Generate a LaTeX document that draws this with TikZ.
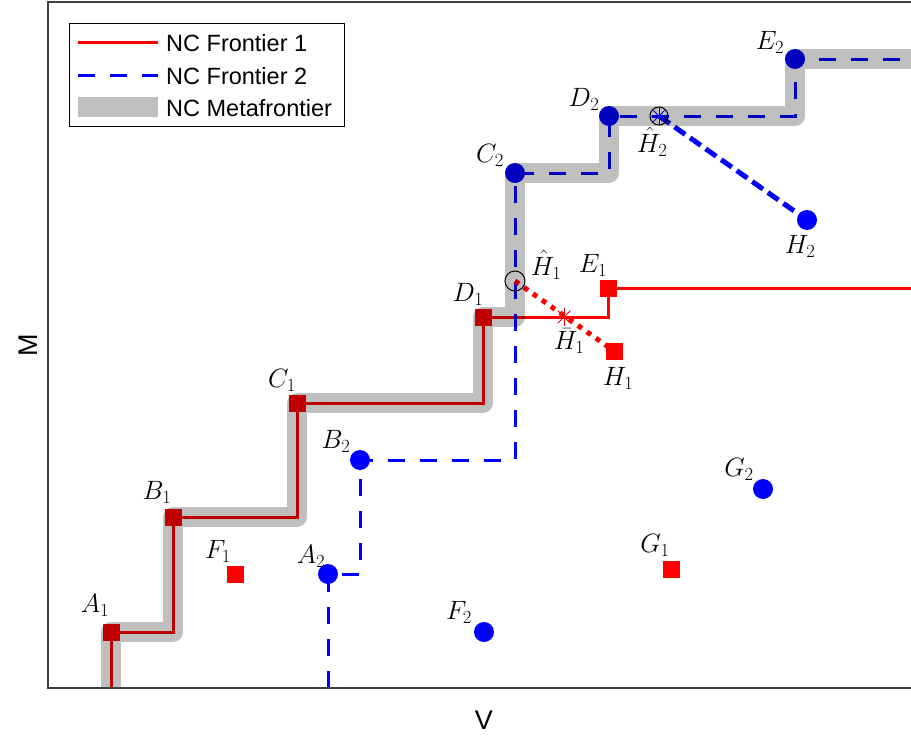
\RequirePackage{fix-cm}
\documentclass[tikz,border=0pt]{standalone}
\usepackage{fontspec}
\setsansfont{Liberation Sans}
\usetikzlibrary{positioning}

\begin{document}
\begin{tikzpicture}[x=1pt,y=-1pt,
  lbl/.style={font=\fontsize{26.5}{30}\selectfont,inner sep=0pt},
  leg/.style={font=\sffamily\fontsize{23.5}{27}\selectfont,anchor=west,inner sep=0pt},
  axlbl/.style={font=\sffamily\fontsize{27}{30}\selectfont,inner sep=0pt},
  front1/.style={color=red,line width=3pt},
  front2/.style={color=blue,line width=3pt,dash pattern=on 17pt off 15pt},
  meta/.style={black,opacity=0.25,line width=20pt,line join=round},
  redpt/.style={fill=red,minimum size=17pt,inner sep=0pt},
  bluept/.style={circle,fill=blue,minimum size=20pt,inner sep=0pt}]

\useasboundingbox (0,0) rectangle (911,736);

% frontier 1 points
\coordinate (A1) at (111,632);
\coordinate (B1) at (173,517);
\coordinate (C1) at (297,403);
\coordinate (D1) at (483,317);
\coordinate (E1) at (608,288);
\coordinate (F1) at (235,574);
\coordinate (G1) at (671,569);
\coordinate (H1) at (614,351);
% frontier 2 points
\coordinate (A2) at (328,574);
\coordinate (B2) at (360,460);
\coordinate (C2) at (515,173);
\coordinate (D2) at (609,116);
\coordinate (E2) at (795,59);
\coordinate (F2) at (484,632);
\coordinate (G2) at (763,489);
\coordinate (H2) at (807,220);
% projections
\coordinate (hH1) at (515,281);
\coordinate (bH1) at (564,317);
\coordinate (hH2) at (659,116);
% ends at the axes
\coordinate (A1b) at (111,688);
\coordinate (A2b) at (328,688);
\coordinate (end1) at (911,288);
\coordinate (end2) at (911,59);

\begin{scope}
\clip (48,2) rectangle (911,688);
\draw[front1] (A1b) -- (A1) -| (B1) -| (C1) -| (D1) -| (E1) -- (end1);
\draw[front2] (A2b) -- (A2) -| (B2) -| (C2) -| (D2) -| (E2) -- (end2);

\draw[red,line width=5pt,dash pattern=on 5pt off 6pt] (hH1) -- (H1);
\draw[blue,line width=5pt,dash pattern=on 13pt off 6pt] (hH2) -- (H2);

\foreach \p in {A1,B1,C1,D1,E1,F1,G1,H1}
  \node[redpt] (m\p) at (\p) {};
\foreach \p in {A2,B2,C2,D2,E2,F2,G2,H2}
  \node[bluept] (m\p) at (\p) {};

\draw[meta] (A1b) -- (A1) -| (B1) -| (C1) -| (D1) -| (C2) -| (D2) -| (E2) -- (end2);
\end{scope}

\draw[line width=1pt] (hH1) circle[radius=10];
\draw[line width=1pt] (hH2) circle[radius=9];
\foreach \a in {0,45,...,315}{
  \draw[blue,line width=0.8pt] (hH2) -- ++(\a:8);
  \draw[red,line width=0.8pt] (bH1) -- ++(\a:9);
}

% labels
\node[lbl] (lA1) at (95,605) {$A_1$};
\node[lbl] (lB1) at (157,492) {$B_1$};
\node[lbl] (lC1) at (282,380) {$C_1$};
\node[lbl] (lD1) at (468,294) {$D_1$};
\node[lbl] (lE1) at (593,265) {$E_1$};
\node[lbl] (lF1) at (218,551) {$F_1$};
\node[lbl] (lG1) at (655,545) {$G_1$};
\node[lbl] (lH1) at (618,378) {$H_1$};
\node[lbl] (lhH1) at (546,265) {$\hat{H}_1$};
\node[lbl] (lbH1) at (569,341) {$\bar{H}_1$};
\node[lbl] (lA2) at (311,556) {$A_2$};
\node[lbl] (lB2) at (336,441) {$B_2$};
\node[lbl] (lC2) at (490,155) {$C_2$};
\node[lbl] (lD2) at (584,99) {$D_2$};
\node[lbl] (lE2) at (770,42) {$E_2$};
\node[lbl] (lF2) at (459,612) {$F_2$};
\node[lbl] (lG2) at (739,469) {$G_2$};
\node[lbl] (lH2) at (800,246) {$H_2$};
\node[lbl] (lhH2) at (652,142) {$\hat{H}_2$};

% axes
\draw[black!75,line width=1.2pt] (911,2) -- (48,2) -- (48,688) -- (911,688);
\node[axlbl] (xl) at (484,720) {V};
\node[axlbl,rotate=90] (yl) at (28,345) {M};

% legend
\draw[fill=white,line width=0.8pt] (69,23) rectangle (344,126);
\draw[front1] (78,42) -- (158,42);
\draw[front2] (78,75) -- (158,75);
\draw[meta] (78,107) -- (158,107);
\node[leg] (t1) at (166,43) {NC Frontier 1};
\node[leg] (t2) at (166,76) {NC Frontier 2};
\node[leg] (t3) at (166,108) {NC Metafrontier};

\end{tikzpicture}
\end{document}
